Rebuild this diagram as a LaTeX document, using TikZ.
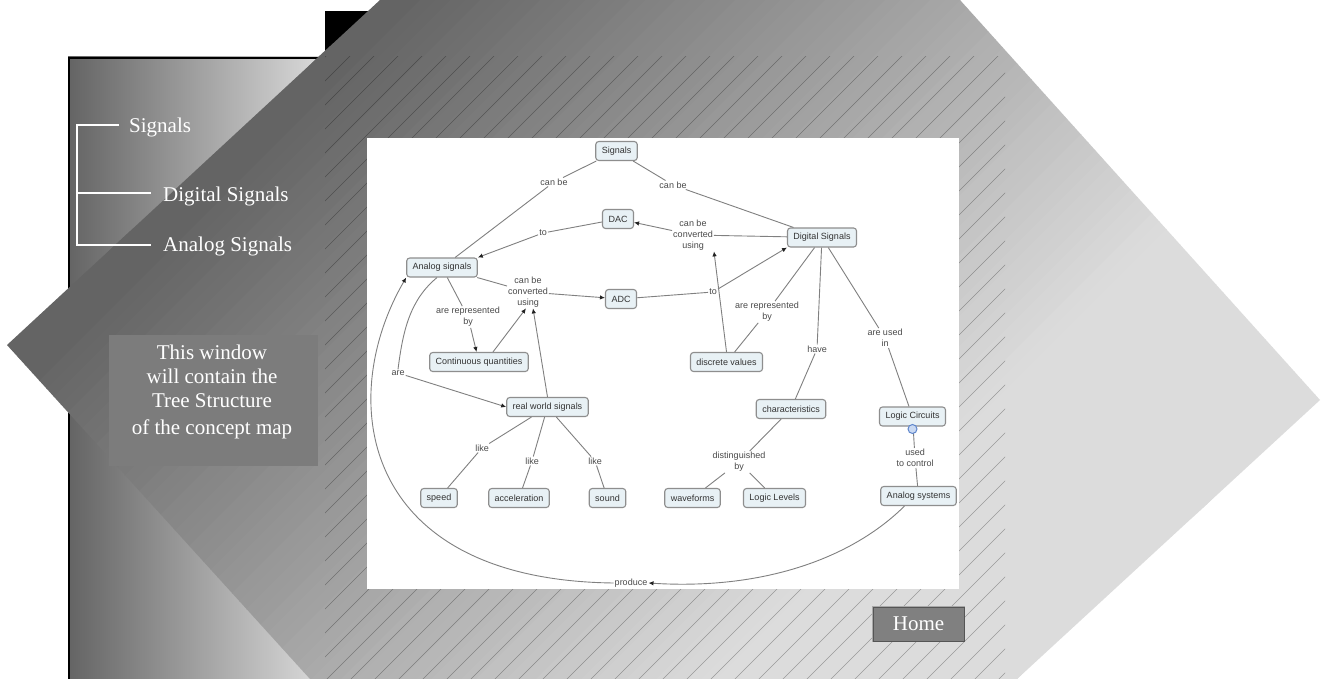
\documentclass[tikz,border=0pt]{standalone}
\usepackage{fontspec}
\setmainfont{Liberation Serif}
\newfontfamily\mapsans{Liberation Sans}
\usepackage{tikz}
\usetikzlibrary{arrows.meta,positioning,calc}
\definecolor{shadedark}{HTML}{646464}
\definecolor{shadelight}{HTML}{DCDCDC}
\definecolor{winbox}{HTML}{7C7C7C}
\definecolor{btngray}{HTML}{808080}
\definecolor{btnhi}{HTML}{A8A8A8}
\definecolor{btnlo}{HTML}{555555}
\definecolor{cfill}{HTML}{E8F1F5}
\definecolor{cedge}{HTML}{8E8E8E}
\definecolor{ctext}{HTML}{333333}
\definecolor{ltext}{HTML}{4A4A4A}
\definecolor{linkgray}{HTML}{808080}
\definecolor{arrowink}{HTML}{222222}
\definecolor{handlefill}{HTML}{C9D9F2}
\definecolor{handleedge}{HTML}{5E86CC}
\newcommand{\pagefont}{\fontsize{21}{24}\selectfont}
\newcommand{\mapfont}{\mapsans\fontsize{9}{11}\selectfont}
\tikzset{
  treeline/.style={draw=white,line width=1.4pt},
  treetext/.style={anchor=base west,inner sep=0pt,text=white,font=\pagefont},
  hatch/.style={draw=black,opacity=0.3,line width=0.5pt},
  concept/.style={draw=cedge,fill=cfill,line width=1.1pt,rounded corners=3pt,
                  inner xsep=6pt,inner ysep=0pt,minimum height=19pt,
                  font=\mapfont,text=ctext},
  linklabel/.style={fill=white,inner sep=1pt,align=center,font=\mapfont,
                    text=ltext},
  link/.style={draw=linkgray,line width=0.9pt},
  linkarr/.style={link,-{Latex[length=5pt,width=4.5pt,color=arrowink]}},
  homebtn/.style={fill=btngray,draw=btnlo,line width=1pt,minimum width=91pt,
                  minimum height=34pt,inner sep=0pt,text=white,font=\pagefont}
}
\begin{document}
\begin{tikzpicture}[x=1pt,y=-1pt]
  \useasboundingbox (0,0) rectangle (1327,679);
  \fill[white] (0,0) rectangle (1327,679);

  % page background
  \shade[left color=shadedark,right color=shadelight] (68,57) rectangle (325,679);
  \draw[black,line width=2pt] (69,679) -- (69,58) -- (330,58);
  \fill[black] (325,11) rectangle (700,57);
  \begin{scope}
    \clip (7,345) -- (380,0) -- (960,0) -- (1320,400) -- (1017,679)
      -- (310,679) -- cycle;
    \foreach \p in {0,15,...,1995}{
      \pgfmathtruncatemacro\pct{max(0,min(100,(\p-400)/9.8))}
      \fill[shadelight!\pct!shadedark] (\p+1000,-1000) -- (\p-1000,1000)
        -- (\p-984,1000) -- (\p+1016,-1000) -- cycle;
    }
    \clip (325,57) rectangle (1005,679);
    \foreach \c in {382,406,...,1700}
      \draw[hatch] (\c+100,-100) -- (\c-800,800);
  \end{scope}

  \node[fill=winbox,minimum width=209pt,minimum height=131pt,inner sep=0pt]
    (win) at (213.5,400.5) {};
  \node[anchor=north,align=center,inner sep=0pt,text=white,font=\pagefont]
    (wintext) at (212,344.5)
    {This window\\will contain the\\Tree Structure\\[3pt]of the concept map};

  \fill[white] (367,138) rectangle (959,589);

  \node[homebtn] (home) at (918.5,624) {Home};
  \draw[btnhi,line width=1.5pt] (home.south west) -- (home.north west)
    -- (home.north east);

  % tree
  \node[treetext] (tsig) at (129,133) {Signals};
  \node[treetext] (tdig) at (163,201) {Digital Signals};
  \node[treetext] (tana) at (163,251) {Analog Signals};
  \coordinate (troot) at (77,125);
  \coordinate (tmid) at (77,193);
  \coordinate (tend) at (77,245);
  \draw[treeline] ($(troot -| tsig.west)+(-10,0)$) -- (troot) -- (tend)
    -- ($(tend -| tana.west)+(-12,0)$);
  \draw[treeline] (tmid) -- ($(tmid -| tdig.west)+(-12,0)$);

  % concept map
  \node[concept] (sig) at (616.5,151) {Signals};
  \node[concept] (dac) at (618,219) {DAC};
  \node[concept] (dig) at (822,237.5) {Digital Signals};
  \node[concept] (ana) at (442,267.5) {Analog signals};
  \node[concept] (adc) at (621,299) {ADC};
  \node[concept] (cq) at (479,362) {Continuous quantities};
  \node[concept] (disc) at (726.5,362) {discrete values};
  \node[concept] (rws) at (547.5,407) {real world signals};
  \node[concept] (chr) at (791,409) {characteristics};
  \node[concept] (lc) at (912.5,416.5) {Logic Circuits};
  \node[concept] (spd) at (439,498) {speed};
  \node[concept] (acc) at (519,498) {acceleration};
  \node[concept] (snd) at (607.5,498) {sound};
  \node[concept] (wav) at (692.5,498) {waveforms};
  \node[concept] (lvl) at (774.5,498) {Logic Levels};
  \node[concept] (asys) at (918.5,496) {Analog systems};

  \node[linklabel] (lcanA) at (554,182) {can be};
  \node[linklabel] (lcanB) at (673,185) {can be};
  \node[linklabel] (lconvA) at (693,235) {can be\\converted\\using};
  \node[linklabel] (ltoA) at (543,233) {to};
  \node[linklabel] (lconvB) at (528,292) {can be\\converted\\using};
  \node[linklabel] (ltoB) at (713,292) {to};
  \node[linklabel] (lrepA) at (468,317) {are represented\\by};
  \node[linklabel] (lrepB) at (767,312) {are represented\\by};
  \node[linklabel] (lare) at (398,373) {are};
  \node[linklabel] (lhave) at (817,349) {have};
  \node[linklabel] (lused) at (885,338) {are used\\in};
  \node[linklabel] (llikeA) at (482,448) {like};
  \node[linklabel] (llikeB) at (532,461) {like};
  \node[linklabel] (llikeC) at (595,461) {like};
  \node[linklabel] (ldist) at (739,462) {distinguished\\by};
  \node[linklabel] (lctrl) at (915,458) {used\\to control};
  \node[linklabel] (lprod) at (631,583) {produce};

  \draw[link] (sig) -- (lcanA);
  \draw[link] (lcanA) -- (ana);
  \draw[link] (sig) -- (lcanB);
  \draw[link] (lcanB) -- (dig);
  \draw[link] (dig) -- (lconvA);
  \draw[linkarr] (lconvA) -- (dac);
  \draw[link] (dac) -- (ltoA);
  \draw[linkarr] (ltoA) -- (ana.north east);
  \draw[link] (ana) -- (lconvB);
  \draw[linkarr] (lconvB) -- (adc);
  \draw[link] (adc) -- (ltoB);
  \draw[linkarr] (ltoB) -- (dig.south west);
  \draw[link] (ana) -- (lrepA);
  \draw[linkarr] (lrepA) -- (cq);
  \draw[linkarr] ($(cq.north)+(14,0)$) -- ($(lconvB.south)+(-2,0)$);
  \draw[linkarr] (rws.north) -- ($(lconvB.south)+(5,0)$);
  \draw[link] ($(ana.south)+(-5,0)$) .. controls (410,300) and (403,330)
    .. (lare.north);
  \draw[linkarr] (lare) -- (rws.west);
  \draw[link] (rws) -- (llikeA);
  \draw[link] (llikeA) -- (spd);
  \draw[link] (rws) -- (llikeB);
  \draw[link] (llikeB) -- (acc);
  \draw[link] (rws) -- (llikeC);
  \draw[link] (llikeC) -- (snd);
  \draw[linkarr] (disc.north) -- (lconvA.south east);
  \draw[link] (dig) -- (lrepB);
  \draw[link] (lrepB) -- (disc);
  \draw[link] (dig) -- (lhave);
  \draw[link] (lhave) -- (chr);
  \draw[link] (dig) -- (lused);
  \draw[link] (lused) -- (lc);
  \draw[link] (chr) -- (ldist);
  \draw[link] (ldist) -- (wav);
  \draw[link] (ldist) -- (lvl);
  \draw[link] (lc) -- (lctrl);
  \draw[link] (lctrl) -- (asys);
  \draw[linkarr] ($(asys.south)+(-14,0)$) .. controls (850,560) and (760,590)
    .. (lprod.east);
  \draw[linkarr] (lprod.west) .. controls (360,580) and (335,400)
    .. (ana.south west);

  \node[circle,draw=handleedge,fill=handlefill,line width=1pt,minimum size=9pt,
        inner sep=0pt] (lchandle) at (912.5,429) {};
\end{tikzpicture}
\end{document}
